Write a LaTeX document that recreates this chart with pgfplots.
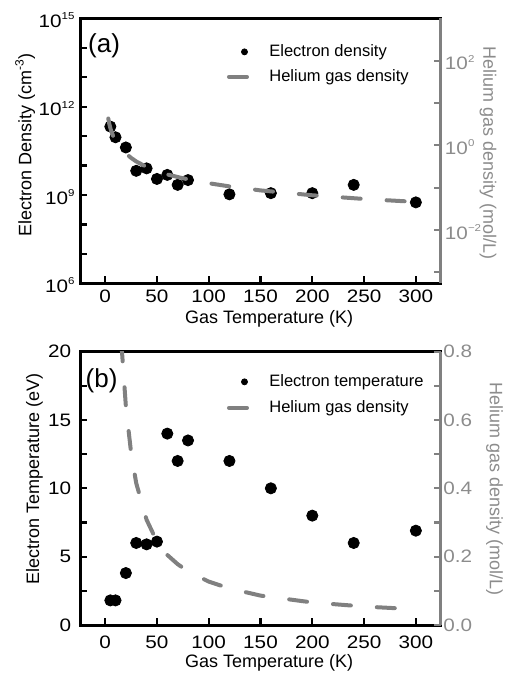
\documentclass[border=0pt]{standalone}
\usepackage{fontspec}
\setmainfont{Liberation Sans}
\newfontfamily\tickfont[FakeStretch=1.15]{Liberation Sans}
\usepackage{pgfplots}
\pgfplotsset{compat=1.18}
\definecolor{hegray}{RGB}{128,128,128}
\definecolor{labgray}{RGB}{140,140,140}
\newcommand\ts[1]{\textsuperscript{\fontsize{5}{5}\selectfont #1}}

\pgfplotsset{
  common/.style={
    scale only axis, width=180.2pt,
    xmin=-24, xmax=324,
    tick align=inside,
    major tick length=3.5pt, minor tick length=3.5pt,
    every tick/.append style={line width=1.1pt},
    /pgf/number format/assume math mode=true,
    every axis x label/.append style={font=\fontsize{9}{10}\selectfont},
    every axis y label/.append style={font=\fontsize{9}{10}\selectfont},
    every tick label/.append style={font=\tickfont\fontsize{9}{10}\selectfont},
  },
  leftax/.style={
    common,
    xtick={0,50,100,150,200,250,300},
    xtick pos=left, ytick pos=left,
    axis line style={line width=1.5pt},
    every tick/.append style={black},
    xlabel={Gas Temperature (K)},
  },
  rightax/.style={
    common,
    axis y line*=right, axis x line=none,
    y axis line style={hegray, line width=1.6pt},
    every tick/.append style={hegray},
    yticklabel style={labgray},
    ylabel={Helium gas density (mol/L)},
    legend cell align=left,
  },
  heline/.style={hegray, line width=2pt, line cap=round, dash pattern=on 9pt off 13pt,
    legend image code/.code={\draw[##1] (0pt,0pt) -- (9pt,0pt);}},
  dots/.style={only marks, mark=*, mark size=2.8pt, black},
  legdot/.style={black, mark=*, mark size=1.5pt, only marks,
    legend image code/.code={\draw[##1] plot coordinates {(7.75pt,0pt)};}},
  legsty/.style={legend style={draw=none, fill=none, inner sep=0pt, outer sep=0pt,
    font=\fontsize{8.25}{10}\selectfont,
    nodes={inner sep=1pt, text height=6.2pt, text depth=1.8pt},
    /tikz/every odd column/.append style={column sep=9.2pt},
    anchor=north west}},
}

\pgfplotstableread{
T ne
5 2.1e11
10 9.1e10
20 4.1e10
30 6.6e9
40 8.0e9
50 3.5e9
60 4.8e9
70 2.2e9
80 3.2e9
120 1.05e9
160 1.15e9
200 1.15e9
240 2.2e9
300 5.6e8
}\densitydata

\pgfplotstableread{
T Te
5 1.8
10 1.8
20 3.8
30 6.0
40 5.9
50 6.1
60 14.0
70 12.0
80 13.5
120 12.0
160 10.0
200 8.0
240 6.0
300 6.9
}\tempdata

\pgfplotstableread{
T n
3 4.3
4 3.2
5 2.56
6 2.13
8 1.6
10 1.28
12 1.07
15 0.853
20 0.64
25 0.505
30 0.415
40 0.308
50 0.244
60 0.205
70 0.178
80 0.157
100 0.127
120 0.107
150 0.086
200 0.066
250 0.054
300 0.046
}\hedata

\begin{document}
\begin{tikzpicture}
\useasboundingbox (0,0) rectangle (254pt,336.5pt);

% ---------- panel (a) ----------
\begin{axis}[leftax, height=132.5pt, at={(40.15pt,194.85pt)}, anchor=south west,
  ymode=log, ymin=1e6, ymax=1e15,
  ytick={1e6,1e9,1e12,1e15},
  yticklabels={10\ts{6},10\ts{9},10\ts{12},10\ts{15}},
  minor ytick={1e7,1e8,1e10,1e11,1e13,1e14},
  yticklabel style={xshift=1.1pt, yshift=-1pt},
  ylabel={Electron Density (cm\textsuperscript{-3})},
  ylabel style={at={(axis description cs:-0.153,0.522)}, anchor=center},
  xlabel style={at={(axis description cs:0.524,-0.151)}, anchor=base},
]
\addplot[dots] table[x=T,y=ne] {\densitydata};
\node[font=\fontsize{13}{14}\selectfont] at (axis description cs:0.066,0.897) {(a)};
\end{axis}
\begin{axis}[rightax, height=132.5pt, at={(40.15pt,194.85pt)}, anchor=south west,
  ymode=log, ymin=5.5e-4, ymax=1000,
  ytick={1e-2,1,1e2},
  yticklabels={10\ts{−2},10\ts{0},10\ts{2}},
  minor ytick={1e-3,1e-1,10},
  yticklabel style={xshift=-1.4pt, yshift=-1pt},
  ylabel style={labgray, at={(axis description cs:1.131,0.49)}, anchor=center, rotate=180},
  legsty, legend style={at={(axis description cs:0.407,0.911)}, row sep=2.5pt},
]
\addlegendimage{legdot}
\addlegendentry{Electron density}
\addplot[heline] table[x=T,y=n] {\hedata};
\addlegendentry{Helium gas density}
\end{axis}

% ---------- panel (b) ----------
\begin{axis}[leftax, height=136.7pt, at={(40.15pt,24pt)}, anchor=south west,
  ymin=0, ymax=20,
  ytick={0,5,10,15,20},
  minor ytick={2.5,7.5,12.5,17.5},
  yticklabel style={xshift=-1pt},
  xticklabel style={yshift=-1.7pt},
  ylabel={Electron Temperature (eV)},
  ylabel style={at={(axis description cs:-0.127,0.534)}, anchor=center},
  xlabel style={at={(axis description cs:0.524,-0.157)}, anchor=base},
]
\addplot[dots] table[x=T,y=Te] {\tempdata};
\node[font=\fontsize{13}{14}\selectfont] at (axis description cs:0.059,0.893) {(b)};
\end{axis}
\begin{axis}[rightax, height=136.7pt, at={(40.15pt,24pt)}, anchor=south west,
  ymin=0, ymax=0.8,
  ytick={0,0.2,0.4,0.6,0.8},
  minor ytick={0.1,0.3,0.5,0.7},
  yticklabel style={xshift=-2.2pt, /pgf/number format/.cd, fixed, fixed zerofill, precision=1},
  ylabel style={labgray, at={(axis description cs:1.149,0.498)}, anchor=center, rotate=180},
  legsty, legend style={at={(axis description cs:0.407,0.926)}, row sep=3pt},
]
\addlegendimage{legdot}
\addlegendentry{Electron temperature}
\addplot[heline] table[x=T,y=n] {\hedata};
\addlegendentry{Helium gas density}
\end{axis}
\end{tikzpicture}
\end{document}
